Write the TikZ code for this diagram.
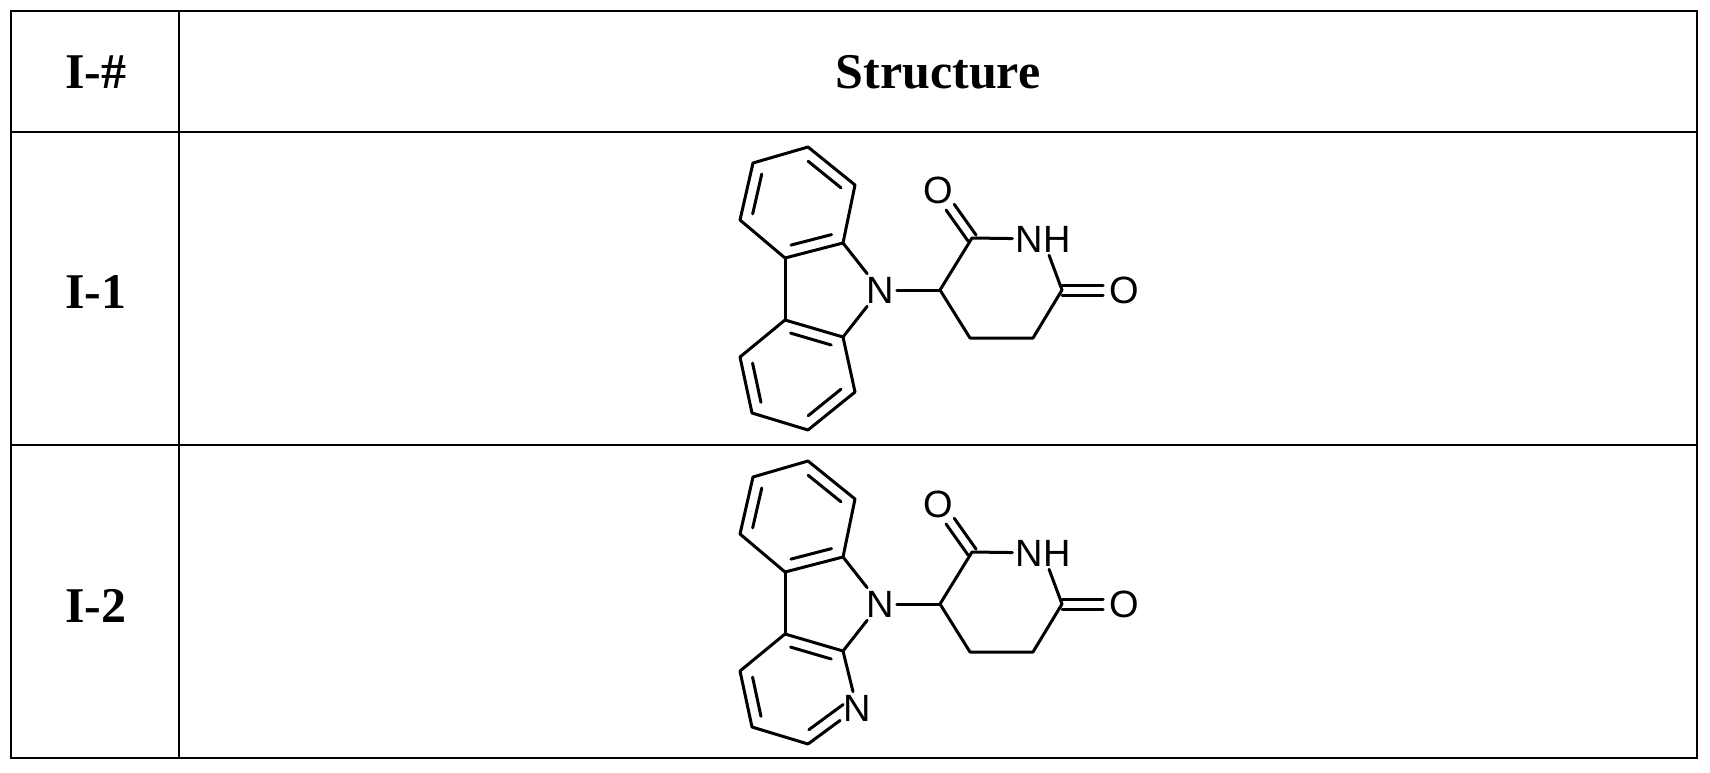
\documentclass[tikz,border=0pt]{standalone}
\usepackage{fontspec}
\setmainfont{Liberation Serif}
\newfontfamily\atomfont{Liberation Sans}
\usetikzlibrary{calc}
\tikzset{
  bond/.style={line width=3pt, line cap=round, line join=round},
  atom/.style={font=\atomfont\fontsize{38}{40}\selectfont, inner sep=3pt},
  hdr/.style={font=\bfseries\fontsize{50}{54}\selectfont},
  grid/.style={line width=2.5pt}
}
\newcommand\ib[3]{%
  \path ($(#1)!(#3)!(#2)$) coordinate (ft) ($(ft)!11pt!(#3)$) coordinate (fs);
  \draw[bond] ($(#1)!.15!(#2)+(fs)-(ft)$) -- ($(#2)!.15!(#1)+(fs)-(ft)$);}
\newcommand\co[2]{%
  \draw[bond,shorten >=21pt] ($(#1)!5pt!90:(#2.center)$) -- ($(#2.center)!5pt!-90:(#1)$);
  \draw[bond,shorten >=21pt] ($(#1)!5pt!-90:(#2.center)$) -- ($(#2.center)!5pt!90:(#1)$);}
\newcommand\molecule[2]{%
\begin{scope}[yshift=-#1pt]
  \coordinate (a1) at (808,147); \coordinate (a2) at (753,163);
  \coordinate (a3) at (740,220); \coordinate (a4) at (785,258);
  \coordinate (a5) at (843,243); \coordinate (a6) at (855,185);
  \node[atom] (N) at (880,290) {N};
  \coordinate (b1) at (785,320); \coordinate (b2) at (843,337);
  \ifnum#2=1 \node[atom] (b3) at (857,394) {N};\else\coordinate (b3) at (855,392);\fi
  \coordinate (b4) at (808,430); \coordinate (b5) at (752,413);
  \coordinate (b6) at (740,357);
  \coordinate (c3) at (940,290); \coordinate (c2) at (972,238);
  \node[atom] (o1) at (938,190) {O};
  \node[atom] (nh) at (1043,239) {NH};
  \coordinate (c6) at (1062,290);
  \node[atom] (o2) at (1124,290) {O};
  \coordinate (c5) at (1033,338); \coordinate (c4) at (970,338);
  \coordinate (ct) at (797,203); \coordinate (cb) at (797,375);
  \draw[bond] (a1)--(a2)--(a3)--(a4)--(a5)--(a6)--cycle;
  \draw[bond] (a5)--(N); \draw[bond] (N)--(b2); \draw[bond] (a4)--(b1);
  \draw[bond] (b1)--(b2); \draw[bond] (b2)--(b3); \draw[bond] (b3)--(b4);
  \draw[bond] (b4)--(b5)--(b6)--(b1);
  \ib{a1}{a6}{ct} \ib{a2}{a3}{ct} \ib{a4}{a5}{ct}
  \ib{b1}{b2}{cb} \ib{b5}{b6}{cb} \ib{b3}{b4}{cb}
  \draw[bond] (N)--(c3); \draw[bond] (c3)--(c2)--(nh);
  \draw[bond] (nh)--(c6); \draw[bond] (c6)--(c5)--(c4)--(c3);
  \co{c2}{o1} \co{c6}{o2}
\end{scope}}
\begin{document}
\begin{tikzpicture}[x=1pt,y=-1pt]
\useasboundingbox[fill=white] (0,0) rectangle (1710,773);
\draw[grid] (11,11) rectangle (1697,758);
\draw[grid] (179,11) -- (179,758);
\draw[grid] (11,132) -- (1697,132);
\draw[grid] (11,445) -- (1697,445);
\node[hdr] (h1) at (96,72) {I-\#};
\node[hdr] (h2) at (938,72) {Structure};
\node[hdr] (r1) at (96,292) {I-1};
\node[hdr] (r2) at (96,606) {I-2};
\molecule{0}{0}
\molecule{314}{1}
\end{tikzpicture}
\end{document}
